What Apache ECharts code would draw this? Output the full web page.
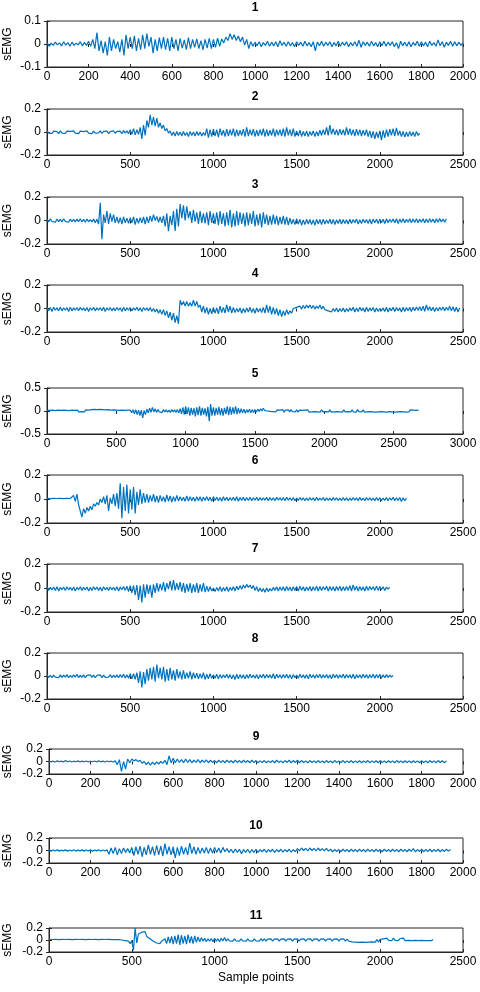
<!DOCTYPE html>
<html><head><meta charset="utf-8">
<script src="https://cdn.jsdelivr.net/npm/echarts@6/dist/echarts.min.js"></script>
<style>html,body{margin:0;padding:0;background:#fff}#c{width:480px;height:992px}</style>
</head><body><div id="c"></div>
<script>
// Sample step (in sample points) between successive upper-peak readings; lower peaks sit halfway between.
const STEP = 20;
const titles = ['1','2','3','4','5','6','7','8','9','10','11'];
const xMax = [2000,2500,2500,2500,3000,2500,2500,2500,2000,2000,2500];
const xInterval = [200,500,500,500,500,500,500,500,200,200,500];
const yLim = [0.1,0.2,0.2,0.2,0.5,0.2,0.2,0.2,0.2,0.2,0.2];

// Upper peaks (x = i*STEP) and lower peaks (x = i*STEP + STEP/2)
const hi1 = [.006,.004,.008,.005,.01,.006,.008,.004,.01,.007,
 .012,.02,.05,.015,.01,.03,.02,.01,.02,.04,
 .03,.035,.025,.04,.045,.03,.02,.028,.03,.025,
 .03,.02,.025,.018,.028,.02,.022,.015,.02,.025,
 .02,.025,.022,.03,.045,.04,.035,.03,.02,.01,
 .008,.01,.006,.012,.008,.01,.014,.008,.01,.006,
 .01,.008,.012,.006,.01,.009,.012,.008,.01,.007,
 .012,.008,.01,.006,.01,.016,.01,.008,.012,.006,
 .01,.012,.008,.01,.006,.012,.008,.01,.007,.012,
 .01,.008,.012,.006,.018,.01,.008,.012,.01,.008,.006];
const lo1 = [-.01,-.006,-.004,-.008,-.005,-.01,-.006,-.004,-.008,-.006,
 -.01,-.02,-.03,-.04,-.05,-.03,-.02,-.035,-.05,-.02,
 -.02,-.03,-.025,-.02,-.01,-.04,-.03,-.02,-.025,-.03,
 -.02,-.03,-.018,-.025,-.02,-.015,-.02,-.025,-.018,-.02,
 -.015,-.01,.005,.015,.02,.015,.01,-.005,-.02,-.01,
 -.008,-.012,-.006,-.01,-.008,-.012,-.006,-.01,-.008,-.012,
 -.006,-.01,-.008,-.012,-.03,-.008,-.01,-.006,-.012,-.008,
 -.01,-.006,-.012,-.008,-.01,-.014,-.006,-.01,-.008,-.012,
 -.008,-.01,-.006,-.012,-.02,-.008,-.01,-.012,-.006,-.01,
 -.008,-.012,-.006,-.01,-.008,-.014,-.006,-.01,-.008,-.006];

const hi2 = [.01,.006,.008,.004,.01,.006,.008,.005,.01,.006,
 .008,.004,.01,.006,.008,.005,.01,.006,.008,.004,
 .01,.006,.008,.012,.01,.02,.03,.02,.04,.06,
 .1,.15,.13,.12,.08,.06,.03,.01,0,.005,
 0,.005,-.005,.005,0,.005,0,-.005,.03,.02,
 .025,.02,.03,.015,.025,.02,.03,.02,.015,.025,
 .04,.02,.025,.015,.02,.03,.02,.015,.03,.02,
 .02,.03,.04,.02,.03,.01,.015,.005,.01,.005,
 .01,.005,.015,.02,.04,.06,.03,.02,.025,.02,
 .04,.03,.02,.025,.02,.015,.02,.01,.005,0,
 .01,.015,.02,.025,.03,.035,.01,.005,0,.005,
 0,.005,-.01];
const lo2 = [-.01,-.012,-.008,-.014,-.01,-.012,-.008,-.012,-.01,-.014,
 -.008,-.012,-.01,-.014,-.01,-.008,-.012,-.01,-.014,-.008,
 -.012,-.01,-.014,-.01,-.015,-.02,-.025,-.02,-.06,-.03,
 .04,.06,.05,.04,.03,.01,-.01,-.03,-.035,-.03,
 -.035,-.03,-.04,-.03,-.035,-.03,-.035,-.03,-.05,-.04,
 -.035,-.045,-.03,-.04,-.035,-.03,-.04,-.035,-.03,-.04,
 -.035,-.03,-.04,-.035,-.03,-.04,-.035,-.03,-.04,-.03,
 -.035,-.04,-.03,-.035,-.04,-.035,-.04,-.035,-.04,-.03,
 -.04,-.035,-.03,-.025,-.03,-.02,-.025,-.03,-.025,-.03,
 -.025,-.03,-.035,-.03,-.035,-.03,-.04,-.05,-.06,-.05,
 -.07,-.05,-.04,-.03,-.035,-.03,-.04,-.045,-.04,-.035,
 -.04,-.03];

const hi3 = [.01,.015,.008,.012,.01,.015,.008,.012,.01,.012,
 .015,.01,.012,.008,.012,.01,.15,.05,.08,.06,
 .05,.03,.025,.03,.02,.025,.03,.02,.025,.03,
 .03,.04,.05,.035,.03,.04,.06,.04,.08,.1,
 .14,.13,.12,.08,.09,.07,.08,.06,.07,.08,
 .06,.07,.08,.06,.07,.09,.06,.08,.07,.06,
 .07,.06,.08,.05,.06,.07,.05,.04,.05,.04,
 .03,.04,.03,.02,.01,.015,.01,.005,.01,.008,
 .005,.01,.008,.012,.005,.01,.008,.006,.01,.008,
 .006,.01,.008,.012,.006,.01,.008,.01,.012,.01,
 .012,.01,.014,.01,.012,.015,.012,.014,.01,.015,
 .012,.015,.01,.014,.012,.015,.012,.014,.016,.012,.015];
const lo3 = [-.012,-.008,-.015,-.01,-.012,-.008,-.015,-.01,-.012,-.01,
 -.012,-.015,-.01,-.012,-.02,-.03,-.16,-.02,-.03,-.01,
 -.02,-.025,-.03,-.02,-.025,-.02,-.035,-.025,-.02,-.03,
 -.02,-.01,0,-.015,-.02,-.05,-.09,-.04,-.09,-.05,
 .02,0,.02,-.02,-.01,-.03,-.02,-.025,-.04,-.02,
 -.03,-.04,-.03,-.05,-.04,-.06,-.05,-.04,-.03,-.05,
 -.04,-.03,-.05,-.04,-.06,-.03,-.04,-.035,-.03,-.04,
 -.03,-.035,-.04,-.03,-.035,-.03,-.04,-.035,-.03,-.035,
 -.04,-.03,-.035,-.03,-.025,-.03,-.035,-.025,-.03,-.025,
 -.03,-.025,-.02,-.03,-.025,-.02,-.025,-.03,-.02,-.025,
 -.02,-.025,-.02,-.015,-.02,-.025,-.018,-.02,-.015,-.02,
 -.018,-.02,-.015,-.02,-.018,-.015,-.02,-.015,-.012,-.015];

const hi4 = [.01,.008,.012,.005,.01,.006,.008,.01,.005,.008,
 .01,.005,.008,.006,.01,.005,.008,.01,.006,.008,
 .005,.008,.006,.01,.005,.008,.005,.01,.006,.008,
 .005,.008,0,-.005,-.01,-.01,-.02,-.03,-.04,-.06,
 .07,.06,.06,.05,.07,.06,.03,.02,.01,0,
 .01,.005,.02,.01,.03,.02,.01,0,.005,0,
 .005,.01,0,.005,0,.01,.03,.02,.01,0,
 -.01,-.02,-.01,-.02,0,.01,.02,.025,.03,.03,
 .025,.02,.03,.02,-.005,-.005,0,.005,0,.005,
 0,.005,.01,.005,.01,.005,.01,.005,.008,.005,
 0,.005,.01,.005,.01,.008,.005,.01,.008,.01,
 .01,.012,.015,.02,.03,.015,.01,.008,.01,.012,
 .01,.02,.015,.01,.005];
const lo4 = [-.02,-.025,-.015,-.02,-.02,-.015,-.025,-.02,-.015,-.02,
 -.015,-.02,-.025,-.015,-.02,-.015,-.02,-.025,-.015,-.02,
 -.02,-.015,-.025,-.02,-.015,-.02,-.015,-.02,-.025,-.015,
 -.02,-.025,-.03,-.04,-.05,-.06,-.08,-.1,-.12,-.13,
 .03,.02,.02,.02,.02,.01,-.03,-.04,-.05,-.045,
 -.04,-.045,-.035,-.04,-.03,-.04,-.035,-.03,-.04,-.035,
 -.03,-.035,-.04,-.03,-.035,-.04,-.035,-.05,-.05,-.06,
 -.07,-.06,-.05,-.04,-.01,-.005,-.005,0,.005,0,
 -.005,0,-.005,-.01,-.02,-.03,-.025,-.03,-.025,-.03,
 -.025,-.02,-.03,-.025,-.02,-.03,-.025,-.02,-.03,-.025,
 -.02,-.025,-.03,-.02,-.025,-.02,-.03,-.025,-.02,-.025,
 -.02,-.015,-.02,-.025,-.015,-.02,-.025,-.02,-.015,-.02,
 -.015,-.02,-.025,-.03];

const hi5 = [.02,.015,.02,.01,.02,.015,.02,.015,.01,.02,
 .015,.02,.01,.02,.025,.02,.03,.035,.03,.035,
 .03,.025,.03,.02,.025,.02,.015,.02,.015,.02,
 .02,.03,.03,.02,.02,.01,.04,.06,.08,.05,
 .03,.02,.03,.025,.02,.03,.025,.03,.05,.08,
 .1,.08,.07,.06,.08,.1,.07,.06,.09,.15,
 .08,.07,.09,.06,.07,.1,.09,.08,.1,.06,
 .05,.04,.03,.04,.03,.03,.04,.05,.06,.05,
 .04,.03,.02,.025,.02,.03,.02,.025,.03,.02,
 .025,.02,.015,.02,.025,.015,.02,.015,.02,.025,
 .015,.02,.025,.015,.02,.015,.02,.025,.015,.02,
 .025,.02,.03,.02,.025,.015,.02,.025,.02,.015,
 .02,.025,.02,.015,.025,.02,.015,.02,.025,.02,
 .015,.025,.02,.015,.02];
const lo5 = [-.02,-.015,-.02,-.025,-.015,-.02,-.015,-.02,-.025,-.02,
 -.02,-.025,-.015,-.02,-.01,-.005,0,-.005,-.01,0,
 -.01,-.015,-.01,-.02,-.015,-.02,-.025,-.02,-.015,-.02,
 -.04,-.06,-.08,-.1,-.15,-.08,-.04,-.03,-.02,-.03,
 -.02,-.03,-.02,-.025,-.03,-.02,-.03,-.04,-.06,-.08,
 -.07,-.1,-.08,-.12,-.09,-.1,-.08,-.12,-.22,-.1,
 -.1,-.08,-.09,-.1,-.07,-.09,-.08,-.06,-.07,-.05,
 -.04,-.05,-.03,-.04,-.03,-.02,-.01,0,.01,0,
 -.01,-.015,-.02,-.015,-.02,-.025,-.015,-.02,-.015,-.02,
 -.025,-.02,-.015,-.02,-.025,-.02,-.015,-.02,-.025,-.02,
 -.015,-.02,-.025,-.02,-.015,-.02,-.025,-.02,-.015,-.02,
 -.02,-.025,-.015,-.02,-.025,-.02,-.015,-.02,-.025,-.02,
 -.015,-.02,-.025,-.015,-.02,-.025,-.02,-.015,-.02,-.025,
 -.02,-.015,-.02,-.015];

const hi6 = [.005,.003,.005,.004,.006,.003,.005,.004,.03,.04,
 -.05,-.08,-.07,-.06,-.04,-.03,0,.02,.03,.01,
 .04,.05,.13,.1,.12,.08,.1,.06,.08,.05,
 .04,.03,.04,.025,.03,.02,.035,.025,.02,.03,
 .02,.015,.025,.02,.015,.02,.018,.015,.02,.015,
 .02,.015,.012,.018,.015,.012,.015,.018,.012,.015,
 .012,.015,.01,.015,.012,.01,.015,.012,.01,.014,
 .01,.012,.015,.01,.012,.008,.012,.01,.008,.012,
 .01,.015,.008,.012,.01,.008,.012,.01,.008,.012,
 .01,.008,.012,.01,.015,.008,.012,.01,.008,.012,
 .01,.008,.012,.01,.014,.01,.012,.01,.008];
const lo6 = [-.003,-.005,-.004,-.005,-.003,-.005,-.004,-.006,-.02,-.05,
 -.15,-.12,-.1,-.09,-.06,-.05,-.03,-.04,-.1,-.04,
 -.06,-.08,-.16,-.1,-.12,-.09,-.12,-.05,-.04,-.03,
 -.03,-.02,-.025,-.03,-.02,-.025,-.02,-.025,-.02,-.018,
 -.015,-.02,-.018,-.015,-.02,-.015,-.018,-.012,-.015,-.02,
 -.012,-.015,-.018,-.012,-.015,-.012,-.015,-.018,-.012,-.015,
 -.012,-.015,-.01,-.015,-.012,-.01,-.015,-.012,-.015,-.01,
 -.012,-.015,-.01,-.012,-.015,-.012,-.01,-.015,-.012,-.01,
 -.015,-.012,-.01,-.015,-.012,-.015,-.01,-.012,-.015,-.012,
 -.015,-.012,-.01,-.015,-.012,-.015,-.01,-.012,-.015,-.012,
 -.015,-.012,-.015,-.01,-.015,-.012,-.02,-.015];

const hi7 = [.01,.005,.008,.01,.005,.008,.01,.006,.008,.005,
 .01,.006,.008,.005,.01,.008,.006,.01,.005,.008,
 .006,.01,.008,.012,.015,.02,.02,.025,.02,.03,
 .03,.025,.03,.04,.035,.05,.04,.06,.065,.04,
 .05,.04,.035,.04,.03,.04,.03,.04,.015,.01,
 0,.005,.01,.005,.01,.005,.01,.015,.02,.025,
 .03,.025,.02,.01,0,-.005,0,-.005,.005,.01,
 .008,.01,.012,.008,.01,.012,.015,.01,.008,.012,
 .01,.015,.012,.01,.015,.012,.01,.012,.015,.01,
 .012,.02,.025,.015,.012,.01,.015,.012,.01,.015,
 .012,.01,.008,.005];
const lo7 = [-.02,-.015,-.02,-.025,-.015,-.02,-.015,-.02,-.025,-.015,
 -.02,-.015,-.025,-.02,-.015,-.02,-.025,-.015,-.02,-.015,
 -.02,-.025,-.015,-.02,-.03,-.04,-.06,-.1,-.12,-.08,
 -.05,-.08,-.04,-.03,-.02,-.03,-.01,-.02,-.02,-.015,
 -.03,-.04,-.03,-.04,-.035,-.04,-.03,-.035,-.03,-.025,
 -.03,-.025,-.03,-.025,-.03,-.02,-.025,-.015,-.01,0,
 .005,-.005,-.02,-.03,-.03,-.035,-.03,-.025,-.02,-.025,
 -.02,-.025,-.02,-.025,-.02,-.025,-.02,-.025,-.02,-.025,
 -.02,-.025,-.02,-.015,-.025,-.02,-.025,-.02,-.025,-.02,
 -.02,-.025,-.02,-.025,-.02,-.025,-.02,-.015,-.02,-.02,
 -.015,-.02,-.01];

const hi8 = [.01,.006,.008,.005,.01,.008,.012,.006,.01,.015,
 .008,.01,.005,.01,.008,.006,.01,.008,.005,.01,
 .008,.01,.012,.015,.01,.02,.02,.03,.04,.035,
 .06,.07,.08,.1,.07,.08,.06,.07,.05,.06,
 .04,.05,.03,.04,.03,.025,.02,.03,.015,.02,
 .01,.015,.012,.01,.015,.012,.01,.015,.012,.01,
 .012,.015,.008,.012,.01,.015,.012,.01,.02,.015,
 .01,.012,.015,.01,.012,.008,.015,.01,.012,.015,
 .01,.012,.015,.01,.012,.01,.015,.012,.01,.015,
 .012,.01,.015,.012,.01,.015,.012,.01,.015,.012,
 .015,.01,.012,.008,.005];
const lo8 = [-.012,-.015,-.01,-.015,-.012,-.01,-.015,-.012,-.01,-.015,
 -.012,-.015,-.01,-.012,-.015,-.01,-.015,-.012,-.01,-.015,
 -.012,-.015,-.012,-.018,-.02,-.025,-.03,-.06,-.1,-.07,
 -.04,-.03,-.05,-.02,-.03,-.05,-.04,-.03,-.04,-.02,
 -.03,-.025,-.02,-.03,-.02,-.025,-.02,-.03,-.025,-.02,
 -.02,-.025,-.02,-.015,-.02,-.025,-.03,-.025,-.02,-.025,
 -.02,-.015,-.02,-.025,-.015,-.02,-.015,-.02,-.025,-.015,
 -.02,-.015,-.02,-.025,-.015,-.02,-.015,-.02,-.025,-.015,
 -.02,-.015,-.02,-.015,-.02,-.025,-.015,-.02,-.015,-.02,
 -.015,-.02,-.025,-.015,-.02,-.015,-.02,-.015,-.02,-.015,
 -.02,-.015,-.012,-.01];

const hi9 = [.008,.005,.01,.006,.015,.008,.005,.01,.006,.008,
 .005,.008,.01,.006,.008,.005,.01,.03,0,.04,
 .04,.03,.02,0,-.01,-.01,-.005,0,.02,.09,
 .05,.04,.03,.04,.03,.02,.03,.02,.025,.02,
 .015,.02,.015,.02,.015,.02,.015,.02,.015,.02,
 .015,.01,.015,.01,.015,.02,.01,.015,.02,.015,
 .02,.015,.01,.015,.01,.015,.01,.015,.01,.015,
 .01,.015,.01,.015,.01,.012,.01,.015,.01,.012,
 .015,.01,.012,.01,.015,.01,.012,.01,.012,.01,
 .012,.01,.015,.01,.015,.012,.01];
const lo9 = [-.005,-.008,-.004,-.008,-.005,-.008,-.004,-.008,-.005,-.008,
 -.004,-.008,-.005,-.008,-.004,-.008,-.05,-.16,-.12,-.02,
 .01,0,-.03,-.05,-.06,-.05,-.04,-.03,-.05,-.02,
 -.02,-.015,-.02,-.015,-.02,-.015,-.02,-.015,-.02,-.015,
 -.02,-.015,-.02,-.015,-.02,-.015,-.02,-.015,-.02,-.015,
 -.02,-.015,-.02,-.015,-.02,-.015,-.02,-.015,-.02,-.015,
 -.02,-.015,-.02,-.015,-.02,-.015,-.02,-.015,-.02,-.015,
 -.015,-.02,-.015,-.02,-.015,-.02,-.015,-.02,-.015,-.02,
 -.015,-.02,-.015,-.02,-.015,-.02,-.015,-.02,-.015,-.02,
 -.015,-.02,-.015,-.02,-.015,-.02];

const hi10 = [.01,.008,.01,.006,.01,.008,.012,.006,.01,.008,
 .01,.006,.012,.008,.01,.04,.05,.03,.04,.03,
 .05,.06,.07,.05,.09,.06,.08,.07,.11,.06,
 .06,.05,.07,.05,.12,.06,.05,.04,.05,.04,
 .05,.04,.05,.03,.02,.025,.02,.015,.02,.015,
 .02,.015,.02,.015,.02,.015,.02,.015,.02,.015,
 .03,.04,.035,.04,.035,.04,.03,.035,.02,.015,
 .015,.02,.015,.02,.015,.02,.015,.02,.015,.02,
 .015,.02,.015,.02,.015,.02,.015,.02,.03,.015,
 .02,.015,.02,.015,.02,.015,.02,.015];
const lo10 = [-.01,-.008,-.01,-.006,-.01,-.008,-.01,-.006,-.01,-.008,
 -.01,-.006,-.01,-.008,-.06,-.05,-.07,-.05,-.03,-.04,
 -.08,-.06,-.1,-.07,-.06,-.08,-.07,-.09,-.06,-.07,
 -.12,-.08,-.06,-.07,-.05,-.06,-.05,-.04,-.05,-.04,
 -.03,-.04,-.02,-.03,-.04,-.03,-.05,-.03,-.04,-.03,
 -.03,-.02,-.03,-.02,-.03,-.02,-.025,-.02,-.025,-.02,
 -.005,0,-.005,0,-.005,0,-.005,-.01,-.02,-.015,
 -.02,-.015,-.02,-.015,-.02,-.015,-.02,-.015,-.02,-.015,
 -.02,-.015,-.02,-.015,-.02,-.015,-.02,-.015,-.02,-.015,
 -.02,-.015,-.02,-.015,-.02,-.015,-.01];

const hi11 = [.01,.008,.01,.006,.01,.008,.01,.006,.01,.008,
 .01,.006,.01,.008,.01,.006,.01,.008,.01,.006,
 .008,.005,0,-.01,-.02,-.01,.2,.1,.13,.14,
 .08,.04,0,-.02,-.02,.02,.05,.06,.07,.09,
 .08,.07,.09,.06,.07,.05,.04,.03,.02,.025,
 .03,.02,.03,.04,.02,.015,.02,.015,.02,.015,
 .02,.015,.02,.015,.025,.02,.015,.02,.015,.02,
 .015,.02,.015,.02,.015,.02,.015,.02,.015,.02,
 .015,.02,.015,.02,.015,.02,.015,.02,.015,.02,
 .015,.01,0,-.005,-.01,-.005,-.01,-.005,0,.005,
 .01,.02,.03,.025,.03,.02,.025,.03,.02,.025,
 .02,.025,.015,.02,.015,.01,.01];
const lo11 = [-.01,-.008,-.01,-.006,-.01,-.008,-.01,-.006,-.01,-.008,
 -.01,-.006,-.01,-.008,-.01,-.006,-.01,-.008,-.01,-.006,
 -.01,-.015,-.03,-.04,-.06,-.17,-.05,.08,.1,.06,
 .02,-.02,-.05,-.06,-.04,-.06,-.05,-.07,-.06,-.08,
 -.06,-.07,-.05,-.06,-.04,-.03,-.02,-.03,-.02,-.03,
 -.02,-.03,-.015,-.02,-.015,-.02,-.015,-.02,-.015,-.02,
 -.015,-.02,-.015,-.02,-.015,-.02,-.015,-.02,-.015,-.02,
 -.015,-.02,-.015,-.02,-.015,-.02,-.015,-.02,-.015,-.02,
 -.015,-.02,-.015,-.02,-.015,-.02,-.015,-.02,-.015,-.02,
 -.02,-.03,-.035,-.04,-.035,-.04,-.035,-.03,-.035,-.03,
 -.02,-.01,-.005,-.01,-.005,-.01,-.005,-.01,-.005,-.01,
 -.005,-.01,-.005,-.01,-.01,-.01];

const his = [hi1,hi2,hi3,hi4,hi5,hi6,hi7,hi8,hi9,hi10,hi11];
const los = [lo1,lo2,lo3,lo4,lo5,lo6,lo7,lo8,lo9,lo10,lo11];

// layout (pixels)
const gTop =    [21,109,197,285,388,475,564,653,749,838,928];
const gHeight = [46, 46, 47, 47, 46, 48, 48, 46, 25, 25, 24];
const gLeft =   [47, 47, 47, 47, 47, 47, 47, 47, 49, 49, 49];
const tTop =    [2, 91, 179, 268, 368, 455, 543, 633, 731, 820, 910];

function build(hi, lo){
  const d=[]; const n=Math.max(hi.length, lo.length);
  for(let i=0;i<n;i++){
    if(i<hi.length) d.push([i*STEP, hi[i]]);
    if(i<lo.length) d.push([i*STEP+STEP/2, lo[i]]);
  }
  return d;
}

const FONT = 'Liberation Sans, Arial, sans-serif';
const AX = '#262626';
const fmt = v => String(+v.toFixed(2));
const grid=[], xAxis=[], yAxis=[], series=[], title=[], xTop=[], yRight=[];
for(let k=0;k<11;k++){
  grid.push({left:gLeft[k], right:17, top:gTop[k], height:gHeight[k], show:true, borderColor:AX, borderWidth:1,
    containLabel:false, outerBoundsMode:'none'});
  title.push({text:titles[k], left: (gLeft[k]+463)/2, textAlign:'center', top:tTop[k], padding:0,
    textStyle:{fontFamily:FONT, fontSize:12, fontWeight:'bold', color:'#000'}});
  xAxis.push({type:'value', gridIndex:k, min:0, max:xMax[k], interval:xInterval[k],
    axisLine:{show:true, onZero:false, lineStyle:{color:AX, width:1}},
    axisTick:{show:true, inside:true, length:3, lineStyle:{color:AX}},
    axisLabel:{fontFamily:FONT, fontSize:12, color:'#000', margin:4, formatter:fmt},
    splitLine:{show:false},
    name: k===10 ? 'Sample points' : '', nameLocation:'middle', nameGap:20,
    nameTextStyle:{fontFamily:FONT, fontSize:12, color:'#000'}});
  yAxis.push({type:'value', gridIndex:k, min:-yLim[k], max:yLim[k], interval:yLim[k],
    axisLine:{show:true, onZero:false, lineStyle:{color:AX, width:1}},
    axisTick:{show:true, inside:true, length:3, lineStyle:{color:AX}},
    axisLabel:{fontFamily:FONT, fontSize:12, color:'#000', margin:6, formatter:fmt},
    splitLine:{show:false},
    name:'sEMG', nameLocation:'middle', nameGap: k>=8 ? 35 : 33, nameRotate:90, nameMoveOverlap:false,
    nameTextStyle:{fontFamily:FONT, fontSize:12, color:'#000'}});
  xTop.push({type:'value', gridIndex:k, position:'top', min:0, max:xMax[k], interval:xInterval[k],
    axisLine:{show:false}, axisTick:{show:true, inside:true, length:3, lineStyle:{color:AX}},
    axisLabel:{show:false}, splitLine:{show:false}});
  yRight.push({type:'value', gridIndex:k, position:'right', min:-yLim[k], max:yLim[k], interval:yLim[k],
    axisLine:{show:false}, axisTick:{show:true, inside:true, length:3, lineStyle:{color:AX}},
    axisLabel:{show:false}, splitLine:{show:false}});
  series.push({type:'line', xAxisIndex:k, yAxisIndex:k, data:build(his[k], los[k]),
    showSymbol:false, symbol:'none', lineStyle:{color:'#0072BD', width:1.2}, animation:false, clip:true});
}
const chart = echarts.init(document.getElementById('c'), null, {renderer:'canvas'});
chart.setOption({backgroundColor:'#fff', animation:false, title, grid,
  xAxis: xAxis.concat(xTop), yAxis: yAxis.concat(yRight), series});
</script></body></html>
